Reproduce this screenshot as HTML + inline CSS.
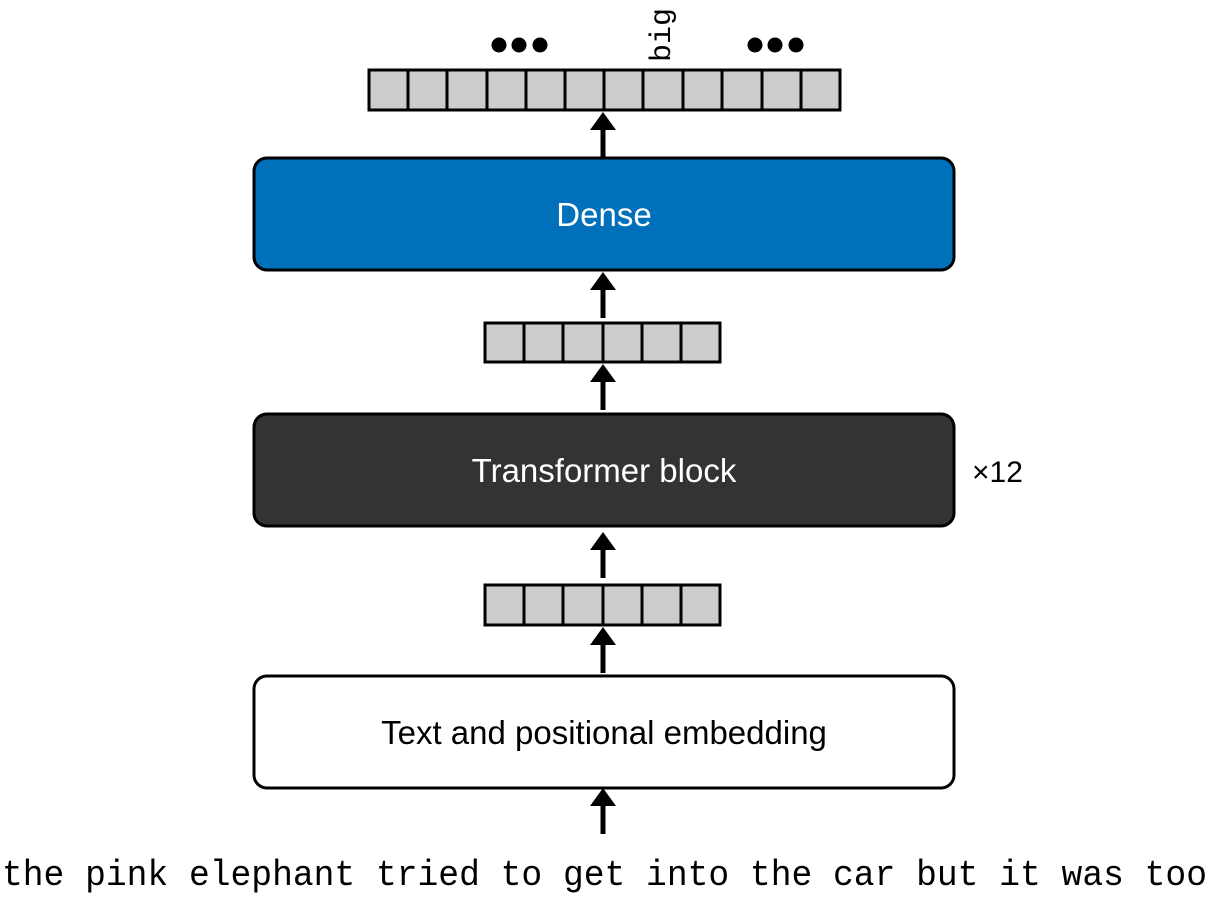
<!DOCTYPE html>
<html><head><meta charset="utf-8"><style>body{margin:0;background:#fff}</style></head><body>
<svg width="1209" height="893" viewBox="0 0 1209 893" xmlns="http://www.w3.org/2000/svg">
<defs>
<g id="ar"><polygon points="-13,18 13,18 0,0" fill="#000"/><rect x="-2.5" y="16" width="5" height="30" fill="#000"/></g>
</defs>
<g fill="#000">
<circle cx="499" cy="45" r="7.5"/><circle cx="519" cy="45" r="7.5"/><circle cx="540" cy="45" r="7.5"/>
<circle cx="755" cy="45" r="7.5"/><circle cx="775" cy="45" r="7.5"/><circle cx="796" cy="45" r="7.5"/>
</g>
<text transform="translate(670,62) rotate(-90)" font-family="Liberation Mono, monospace" font-size="30" fill="#000">big</text>
<rect x="369" y="70" width="471" height="40" fill="#ccc" stroke="#000" stroke-width="3"/>
<g stroke="#000" stroke-width="3">
<line x1="408" y1="70" x2="408" y2="110"/><line x1="447" y1="70" x2="447" y2="110"/><line x1="487" y1="70" x2="487" y2="110"/><line x1="526" y1="70" x2="526" y2="110"/><line x1="565" y1="70" x2="565" y2="110"/><line x1="604" y1="70" x2="604" y2="110"/><line x1="643" y1="70" x2="643" y2="110"/><line x1="683" y1="70" x2="683" y2="110"/><line x1="722" y1="70" x2="722" y2="110"/><line x1="762" y1="70" x2="762" y2="110"/><line x1="801" y1="70" x2="801" y2="110"/>
</g>
<use href="#ar" x="603" y="112"/>
<rect x="254" y="158" width="700" height="112" rx="13" fill="#0070BB" stroke="#000" stroke-width="3"/>
<text x="604" y="226" text-anchor="middle" font-family="Liberation Sans Narrow, Liberation Sans, sans-serif" font-size="33" fill="#fff">Dense</text>
<use href="#ar" x="603" y="272"/>
<rect x="485" y="323" width="235" height="39" fill="#ccc" stroke="#000" stroke-width="3"/>
<g stroke="#000" stroke-width="3">
<line x1="524" y1="323" x2="524" y2="362"/><line x1="563" y1="323" x2="563" y2="362"/><line x1="603" y1="323" x2="603" y2="362"/><line x1="642" y1="323" x2="642" y2="362"/><line x1="681" y1="323" x2="681" y2="362"/>
</g>
<use href="#ar" x="603" y="364"/>
<rect x="254" y="414" width="700" height="112" rx="13" fill="#333" stroke="#000" stroke-width="3"/>
<text x="604" y="482" text-anchor="middle" font-family="Liberation Sans Narrow, Liberation Sans, sans-serif" font-size="33" fill="#fff">Transformer block</text>
<text x="972" y="482" font-family="Liberation Sans Narrow, Liberation Sans, sans-serif" font-size="30" fill="#000">×12</text>
<use href="#ar" x="603" y="532"/>
<rect x="485" y="585" width="235" height="40" fill="#ccc" stroke="#000" stroke-width="3"/>
<g stroke="#000" stroke-width="3">
<line x1="524" y1="585" x2="524" y2="625"/><line x1="563" y1="585" x2="563" y2="625"/><line x1="603" y1="585" x2="603" y2="625"/><line x1="642" y1="585" x2="642" y2="625"/><line x1="681" y1="585" x2="681" y2="625"/>
</g>
<use href="#ar" x="603" y="627"/>
<rect x="254" y="676" width="700" height="112" rx="13" fill="#fff" stroke="#000" stroke-width="3"/>
<text x="604" y="744" text-anchor="middle" font-family="Liberation Sans Narrow, Liberation Sans, sans-serif" font-size="33" fill="#000">Text and positional embedding</text>
<use href="#ar" x="603" y="788"/>
<text x="2" y="885" textLength="1205" lengthAdjust="spacingAndGlyphs" font-family="Liberation Mono, monospace" font-size="36" fill="#000">the pink elephant tried to get into the car but it was too</text>
</svg>
</body></html>
